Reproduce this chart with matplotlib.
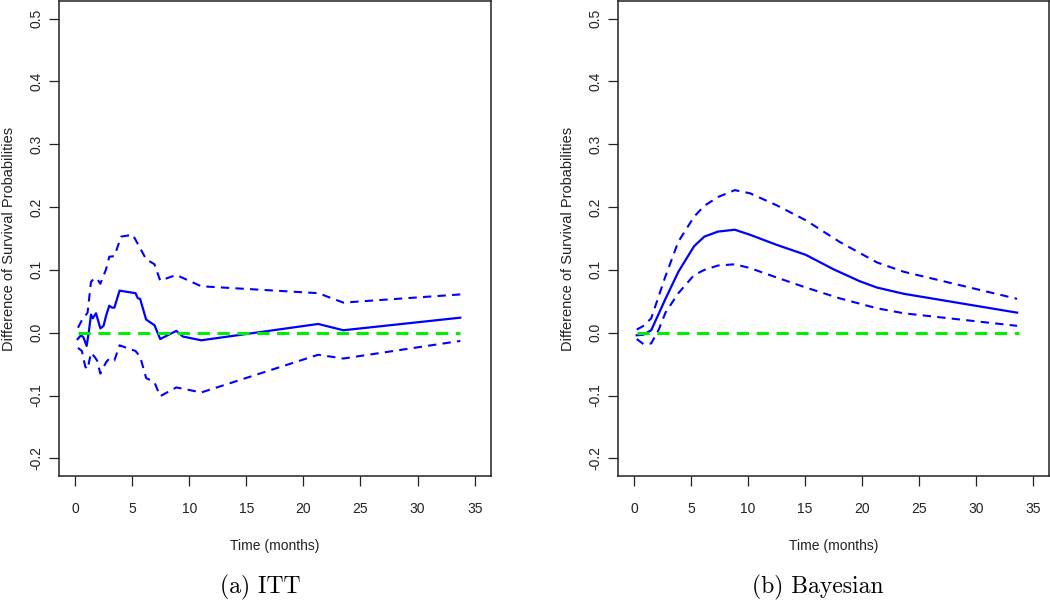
import matplotlib
matplotlib.use('Agg')
import matplotlib.pyplot as plt

# ITT panel: difference of survival probabilities and its band
itt_time = [0.23, 0.53, 0.73, 1.02, 1.2, 1.4, 1.55, 1.84, 2.22, 2.5, 2.72, 3.0, 3.25, 3.45,
            3.9, 5.3, 5.5, 5.7, 6.23, 6.96, 7.46, 8.87, 9.45, 11.06, 21.3, 23.5, 33.74]
itt_diff = [-0.010, -0.004, -0.007, -0.021, 0.0, 0.029, 0.023, 0.031, 0.007, 0.011, 0.027,
            0.043, 0.040, 0.040, 0.067, 0.063, 0.055, 0.054, 0.021, 0.012, -0.010, 0.003,
            -0.006, -0.012, 0.014, 0.004, 0.024]

itt_up_time = [0.26, 0.6, 0.9, 1.1, 1.4, 1.7, 1.93, 2.22, 2.72, 3.0, 3.45, 4.04, 5.06,
               6.23, 6.96, 7.46, 8.87, 11.06, 21.3, 23.5, 33.74]
itt_upper = [0.008, 0.020, 0.027, 0.032, 0.081, 0.087, 0.086, 0.078, 0.101, 0.121, 0.122,
             0.153, 0.156, 0.117, 0.109, 0.083, 0.092, 0.074, 0.063, 0.048, 0.061]

itt_lo_time = [0.26, 0.6, 0.9, 1.1, 1.4, 1.7, 1.93, 2.22, 2.72, 3.0, 3.45, 3.9, 5.3, 5.7,
               6.23, 6.96, 7.46, 8.87, 11.06, 21.3, 23.5, 33.74]
itt_lower = [-0.024, -0.029, -0.054, -0.058, -0.032, -0.038, -0.044, -0.065, -0.047, -0.041,
             -0.044, -0.020, -0.029, -0.038, -0.072, -0.079, -0.101, -0.087, -0.095, -0.035,
             -0.041, -0.013]

# Bayesian panel
bay_time = [0.24, 0.83, 1.51, 2.76, 3.89, 5.28, 6.17, 7.36, 8.84, 10.17, 12.5, 15.07, 17.5,
            19.8, 21.3, 23.67, 33.6]
bay_diff = [-0.004, -0.003, 0.004, 0.054, 0.097, 0.138, 0.153, 0.161, 0.164, 0.156, 0.140,
            0.124, 0.101, 0.082, 0.072, 0.062, 0.032]

bay_up_time = [0.24, 0.83, 1.51, 2.76, 3.89, 5.28, 6.17, 7.36, 8.84, 10.17, 12.5, 15.07,
               18.0, 21.3, 23.67, 33.6]
bay_upper = [0.005, 0.011, 0.023, 0.090, 0.145, 0.185, 0.202, 0.216, 0.227, 0.222, 0.203,
             0.179, 0.145, 0.112, 0.097, 0.054]

bay_lo_time = [0.24, 0.83, 1.51, 2.17, 2.76, 3.89, 5.28, 6.17, 7.36, 8.84, 10.17, 12.5,
               15.07, 18.0, 21.3, 23.67, 33.6]
bay_lower = [-0.010, -0.018, -0.017, 0.005, 0.032, 0.063, 0.092, 0.100, 0.107, 0.109, 0.103,
             0.088, 0.072, 0.055, 0.039, 0.031, 0.011]

ref_time = [0.23, 33.74]
ref_line = [0.0, 0.0]

xticks = [0, 5, 10, 15, 20, 25, 30, 35]
yticks = [-0.2, -0.1, 0.0, 0.1, 0.2, 0.3, 0.4, 0.5]
captions = ['(a) ITT', '(b) Bayesian']

plt.rcParams['font.family'] = ['Liberation Sans', 'DejaVu Sans']

fig = plt.figure(figsize=(10.5, 6.03), dpi=100)
ax1 = fig.add_axes([0.0562, 0.2106, 0.4111, 0.7877])
ax2 = fig.add_axes([0.5886, 0.2106, 0.4105, 0.7877])

blue = '#0000ff'
green = '#00ee00'

panels = [
    (ax1, itt_time, itt_diff, itt_up_time, itt_upper, itt_lo_time, itt_lower),
    (ax2, bay_time, bay_diff, bay_up_time, bay_upper, bay_lo_time, bay_lower),
]

for ax, t, d, tu, up, tl, lo in panels:
    ax.plot(t, d, color=blue, lw=1.6, solid_joinstyle='round')
    ax.plot(tu, up, color=blue, lw=1.5, dashes=(4, 3))
    ax.plot(tl, lo, color=blue, lw=1.5, dashes=(4, 3))
    ax.plot(ref_time, ref_line, color=green, lw=2.2, dashes=(4, 2.5))

    ax.set_xlim(-1.4, 36.4)
    ax.set_ylim(-0.228, 0.528)
    ax.set_xticks(xticks)
    ax.set_xticklabels([str(v) for v in xticks], fontsize=10)
    ax.set_yticks(yticks)
    ax.set_yticklabels(['%.1f' % v for v in yticks], fontsize=10, rotation=90, va='center')
    ax.tick_params(length=7, width=0.9, color='#222222', labelcolor='#222222')
    ax.tick_params(axis='x', pad=12)
    ax.tick_params(axis='y', pad=4)
    for s in ax.spines.values():
        s.set_linewidth(1.1)
        s.set_color('#222222')
    ax.set_xlabel('Time (months)', fontsize=10, labelpad=16, color='#222222')
    ax.set_ylabel('Difference of Survival Probabilities', fontsize=10.5, labelpad=10,
                  color='#222222')

fig.text(0.2476, 0.025, captions[0], fontsize=17, family=['cmr10', 'DejaVu Serif'],
         ha='center', va='center')
fig.text(0.779, 0.025, captions[1], fontsize=17, family=['cmr10', 'DejaVu Serif'],
         ha='center', va='center')

fig.savefig('out.png', dpi=100)
